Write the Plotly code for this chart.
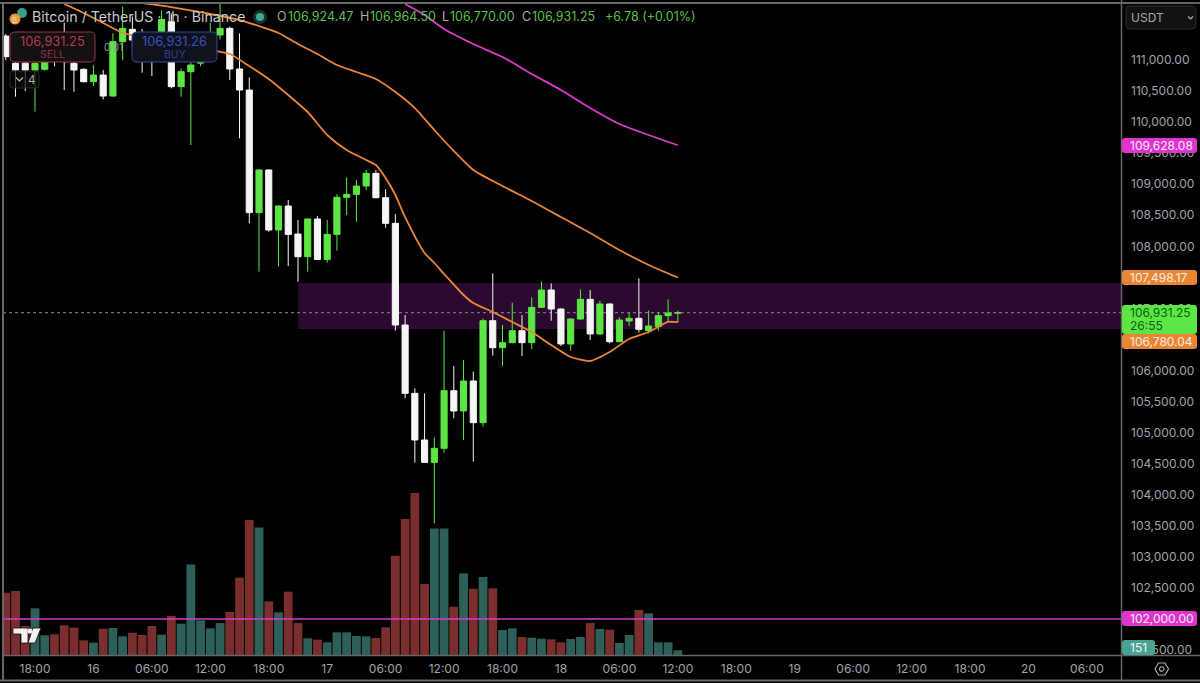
import plotly.graph_objects as go

# ---------------- Data ----------------
# hours counted from 15th 18:00
hours = list(range(-3, 67))
opens = [111386, 110946, 110950, 110839, 110850, 111200, 111200, 110946, 110850, 110651,
         110758, 110420, 111295, 111494, 111322, 111100, 111300, 111617, 110571, 110812,
         110950, 111300, 111403, 111510, 110855, 110517, 108542, 109229, 108263, 108649,
         108198, 107833, 108440, 107790, 108193, 108789, 108837, 108971, 109175, 108783,
         108370, 106733, 105633, 104882, 104522, 104748, 105676, 105349, 105832, 105161,
         106803, 106368, 106449, 106642, 106449, 107018, 107297, 106991, 106428, 106830,
         107147, 106589, 107072, 106465, 106798, 106841, 106644, 106707, 106884, 106924.47]
closes = [111054, 110839, 110839, 110946, 111200, 111000, 111000, 110839, 110651, 110758,
          110420, 111295, 111510, 111322, 111100, 111000, 111655, 110571, 110812, 110920,
          111300, 111403, 111510, 110855, 110517, 108542, 109229, 108263, 108649, 108193,
          107833, 108440, 107790, 108193, 108789, 108837, 108971, 109175, 108783, 108370,
          106733, 105633, 104882, 104522, 104748, 105676, 105349, 105832, 105161, 106803,
          106368, 106449, 106642, 106449, 107018, 107297, 106991, 106428, 106830, 107147,
          106589, 107072, 106465, 106814, 106841, 106664, 106717, 106884, 106927, 106931.25]
highs = [111420, 111100, 111150, 111100, 111300, 111400, 111600, 111100, 110866, 110920,
         110839, 111430, 111860, 111700, 111500, 111300, 111800, 111750, 110866, 111000,
         111350, 111600, 111912, 111537, 111429, 110721, 109240, 109240, 108660, 108746,
         108424, 108450, 108488, 108424, 108842, 109111, 109068, 109229, 109229, 108918,
         108520, 106894, 105714, 105633, 104925, 106642, 106073, 106170, 105982, 106841,
         107565, 106733, 107093, 106894, 107179, 107431, 107404, 107000, 106841, 107308,
         107297, 107125, 107080, 106857, 106932, 107485, 106964, 106932, 107147, 106964.50]
lows = [111000, 110410, 110500, 110168, 110828, 110900, 110517, 110490, 110640, 110581,
        110367, 110410, 111000, 111200, 110796, 110742, 111100, 110544, 110410, 109631,
        110900, 111200, 111333, 110678, 109739, 108370, 107592, 108236, 107672, 107683,
        107430, 107592, 107780, 107737, 107930, 108504, 108397, 108907, 108775, 108300,
        106642, 105553, 104517, 104522, 103540, 104678, 105231, 104882, 104533, 105097,
        106240, 106073, 106440, 106234, 106342, 107010, 106803, 106395, 106320, 106820,
        106492, 106580, 106438, 106455, 106717, 106610, 106600, 106642, 106787, 106770]
volumes = [1678, 1722, 795, 1263, 547, 574, 812, 751, 415, 353,
           724, 742, 521, 618, 556, 795, 565, 1060, 857, 2428,
           945, 733, 874, 1166, 2075, 3603, 3408, 1448, 1157, 1704,
           874, 468, 433, 362, 627, 627, 530, 521, 477, 759,
           2658, 3629, 4318, 1907, 3382, 3382, 1307, 2190, 1784, 2093,
           1792, 689, 733, 503, 486, 459, 442, 362, 450, 503,
           874, 715, 698, 344, 556, 1219, 1130, 362, 362, 151]

ema_fast_x = [3, 5, 7, 9, 11, 14, 18, 20, 22, 24, 26, 28, 30, 32, 34, 35, 36, 37, 38, 40, 41,
              42, 44, 45, 47, 49, 51, 53, 55, 57, 59, 61, 63, 65, 66]
ema_fast = [111902, 111757, 111596, 111435, 111370, 111274, 111161, 111097, 110903, 110694,
            110436, 110163, 109793, 109551, 109390, 109310, 109100, 108827, 108472, 107893,
            107732, 107555, 107216, 107088, 106943, 106782, 106621, 106412, 106218, 106154,
            106299, 106508, 106621, 106782, 106780]
ema_mid_x = [11, 14, 18, 21, 23, 25, 27, 29, 31, 33, 35, 37, 39, 41, 43, 45, 48, 51, 54, 57, 60, 63, 66]
ema_mid = [111918, 111853, 111741, 111644, 111547, 111435, 111258, 111097, 110920, 110807,
           110694, 110485, 110227, 109873, 109535, 109229, 108971, 108730, 108472, 108215,
           107941, 107700, 107498]
ema_slow_x = [38, 40, 42, 45, 48, 51, 54, 57, 60, 63, 66]
ema_slow = [111902, 111725, 111499, 111257, 111048, 110775, 110517, 110227, 109969, 109793, 109628]

x_ticks = [0, 6, 12, 18, 24, 30, 36, 42, 48, 54, 60, 66, 72, 78, 84, 90, 96, 102, 108]
x_labels = ["18:00", "16", "06:00", "12:00", "18:00", "17", "06:00", "12:00", "18:00", "18",
            "06:00", "12:00", "18:00", "19", "06:00", "12:00", "18:00", "20", "06:00"]
y_ticks = list(range(101500, 111500, 500))

current_price = 106931.25
support_level = 102000
zone_low, zone_high = 106669, 107410

# ---------------- Style ----------------
GREEN = "#5ce645"
WHITE = "#f6f6f6"
RED_VOL = "#7a2e2e"
TEAL_VOL = "#2c6058"
ORANGE = "#ea8535"
MAGENTA = "#e033cf"
FONT = "Inter"

L, R, T, B = 3, 1121, 4, 656  # plot area in pixels
X_MIN, X_MAX = -3.285, 111.5


def px(x):
    return (x - L) / (R - L)


def py(y):
    return (B - y) / (B - T)


def rounded(x0, y0, x1, y1, r=3):
    pts = [("M", x0 + r, y0), ("L", x1 - r, y0), ("Q", x1, y0, x1, y0 + r), ("L", x1, y1 - r),
           ("Q", x1, y1, x1 - r, y1), ("L", x0 + r, y1), ("Q", x0, y1, x0, y1 - r),
           ("L", x0, y0 + r), ("Q", x0, y0, x0 + r, y0)]
    out = ""
    for p in pts:
        out += p[0]
        for i in range(1, len(p), 2):
            out += f" {px(p[i]):.5f},{py(p[i + 1]):.5f} "
    return out + "Z"


def poly(points):
    return "M " + " L ".join(f"{px(a):.5f},{py(b):.5f}" for a, b in points) + " Z"


def box(path, fill, line="rgba(0,0,0,0)", width=1):
    return dict(type="path", xref="paper", yref="paper", path=path, fillcolor=fill,
                line=dict(color=line, width=width), layer="above")


def circle(cx, cy, r, fill):
    return dict(type="circle", xref="paper", yref="paper", x0=px(cx - r), x1=px(cx + r),
                y0=py(cy + r), y1=py(cy - r), fillcolor=fill, line=dict(width=0), layer="above")


def rule(x0, y0, x1, y1, color="#666666", width=2):
    return dict(type="line", xref="paper", yref="paper", x0=px(x0), x1=px(x1), y0=py(y0), y1=py(y1),
                line=dict(color=color, width=width), layer="above")


def label(x, y, text, size=12, color="#c8c8c8", anchor="left"):
    return dict(xref="paper", yref="paper", x=px(x), y=py(y), text=text, showarrow=False,
                xanchor=anchor, yanchor="middle", font=dict(family=FONT, size=size, color=color),
                borderpad=0)


# ---------------- Figure ----------------
fig = go.Figure()

fig.add_trace(go.Candlestick(
    x=hours, open=opens, high=highs, low=lows, close=closes,
    increasing=dict(line=dict(color=GREEN, width=1), fillcolor=GREEN),
    decreasing=dict(line=dict(color=WHITE, width=1), fillcolor=WHITE),
    whiskerwidth=0, yaxis="y", showlegend=False,
))
for xs, ys, col in [(ema_fast_x, ema_fast, ORANGE), (ema_mid_x, ema_mid, ORANGE), (ema_slow_x, ema_slow, "#d83ccc")]:
    fig.add_trace(go.Scatter(x=xs, y=ys, mode="lines", yaxis="y", showlegend=False,
                             line=dict(color=col, width=1.8, shape="spline", smoothing=0.6)))

vol_colors = [TEAL_VOL if c >= o else RED_VOL for o, c in zip(opens, closes)]
fig.add_trace(go.Bar(x=hours, y=volumes, marker=dict(color=vol_colors, line=dict(width=0)),
                     yaxis="y2", showlegend=False))

shapes = [
    dict(type="rect", xref="x", yref="y", x0=27, x1=X_MAX, y0=zone_low, y1=zone_high,
         fillcolor="#2a0a2e", line=dict(width=0), layer="below"),
    dict(type="line", xref="x", yref="y", x0=X_MIN, x1=X_MAX, y0=current_price, y1=current_price,
         line=dict(color="#8c8c8c", width=1, dash="dot"), layer="below"),
    dict(type="line", xref="paper", yref="y", x0=0, x1=1, y0=support_level, y1=support_level,
         line=dict(color="#d63cc6", width=1.5), layer="above"),
    # frame
    rule(0, 3, 1200, 3), rule(3, 3, 3, 680), rule(0, 680.5, 1200, 680.5),
    rule(1121.5, 0, 1121.5, 680, width=1.5), rule(3, 655.5, 1200, 655.5, width=1.5),
    # order buttons
    box(rounded(10, 32, 95, 62, 5), "#141113", "#9c3648", 1),
    box(rounded(132, 32, 217, 62, 5), "#10121c", "#3446a0", 1),
    box(rounded(10, 71, 39, 88, 3), "rgba(10,10,10,0.7)", "#2c2c2c", 1),
    # chevron of the "4" box
    dict(type="path", xref="paper", yref="paper", layer="above",
         path=f"M {px(16)},{py(77.5)} L {px(19.5)},{py(81)} L {px(23)},{py(77.5)}",
         line=dict(color="#c0c0c0", width=1.2)),
    # currency dropdown
    box(rounded(1126, 6, 1196, 29, 4), "#121212", "#2e2e2e", 1),
    dict(type="path", xref="paper", yref="paper", layer="above",
         path=f"M {px(1188)},{py(16.5)} L {px(1190.5)},{py(19)} L {px(1193)},{py(16.5)}",
         line=dict(color="#b0b0b0", width=1.2)),
    # symbol logos and status dot
    circle(22, 13, 5, "#3a9d90"),
    circle(15, 19, 5.5, "#e8963a"),
    circle(260, 17, 7, "#12332f"),
    circle(260, 17, 4, "#3fa88e"),
    # price tags
    box(rounded(1122, 138, 1197, 153), MAGENTA),
    box(rounded(1122, 270, 1197, 285), ORANGE),
    box(rounded(1122, 305, 1197, 334), GREEN),
    box(rounded(1122, 334, 1197, 349), ORANGE),
    box(rounded(1122, 611, 1197, 626), MAGENTA),
    box(rounded(1122, 640, 1155, 655), "#4aa392"),
    # tradingview logo
    box(poly([(13, 628), (28, 628), (28, 643), (21, 643), (21, 634), (13, 634)]), "#f2f2f2", "#101010", 0.8),
    box(poly([(33, 628), (41, 628), (35, 643), (28, 643)]), "#f2f2f2", "#101010", 0.8),
    circle(30, 631, 2.6, "#f2f2f2"),
    # settings hexagon
    dict(type="path", xref="paper", yref="paper", layer="above",
         path=poly([(1155, 669), (1158.5, 663), (1165, 663), (1168.5, 669), (1165, 675), (1158.5, 675)]),
         line=dict(color="#a8a8a8", width=1.2)),
    dict(type="circle", xref="paper", yref="paper", layer="above",
         x0=px(1159.5), x1=px(1164), y0=py(671.2), y1=py(666.8), line=dict(color="#a8a8a8", width=1.2)),
]

annotations = [
    label(31, 17, "Bitcoin / TetherUS · 1h · Binance", 14.2, "#c9c9c9"),
    label(276, 17, "O", 12.5, "#a8a8a8"),
    label(287, 17, "106,924.47", 12.5, "#5fbf4e"),
    label(359, 17, "H", 12.5, "#a8a8a8"),
    label(369, 17, "106,964.50", 12.5, "#5fbf4e"),
    label(441, 17, "L", 12.5, "#a8a8a8"),
    label(449, 17, "106,770.00", 12.5, "#5fbf4e"),
    label(521, 17, "C", 12.5, "#a8a8a8"),
    label(531, 17, "106,931.25", 12.5, "#5fbf4e"),
    label(604, 17, "+6.78 (+0.01%)", 12.5, "#5fbf4e"),
    label(52.5, 41, "106,931.25", 12.8, "#b93a4a", "center"),
    label(52.5, 54, "SELL", 10.5, "#8e3240", "center"),
    label(113, 47, "0.01", 10, "#9a9a9a", "center"),
    label(174.5, 41, "106,931.26", 12.8, "#3a4fc0", "center"),
    label(174.5, 54, "BUY", 10.5, "#2f3f90", "center"),
    label(31.5, 80, "4", 11.5, "#b0b0b0", "center"),
    label(1130, 18, "USDT", 12, "#a8a8a8"),
    label(15, 19.5, "₿", 8, "#f6d9a8", "center"),
    label(1129, 145.5, "109,628.08", 12, "#f4eef4"),
    label(1129, 277.5, "107,498.17", 12, "#f7ece2"),
    label(1129, 341.5, "106,780.04", 12, "#f7ece2"),
    label(1129, 618.5, "102,000.00", 12, "#f4eef4"),
    label(1129, 647.5, "151", 12, "#f0f6f4"),
    label(1129, 312.5, "106,931.25", 12, "#0c5f12"),
    label(1129, 325.5, "26:55", 12, "#0c5f12"),
]

fig.update_layout(
    width=1200, height=683,
    margin=dict(l=L, r=1200 - R, t=T, b=683 - B, autoexpand=False),
    paper_bgcolor="#000000", plot_bgcolor="#000000",
    font=dict(family=FONT, color="#a8a8a8", size=12),
    boxgap=0.1, bargap=0.1, showlegend=False, dragmode=False,
    xaxis=dict(range=[X_MIN, X_MAX], tickmode="array", tickvals=x_ticks, ticktext=x_labels,
               showgrid=False, zeroline=False, ticks="", rangeslider=dict(visible=False),
               ticklabelstandoff=4, tickfont=dict(family=FONT, size=12, color="#a4a4a4")),
    yaxis=dict(range=[101404, 111902], side="right", tickmode="array", tickvals=y_ticks,
               tickformat=",.2f", showgrid=False, zeroline=False, ticks="", ticklabelstandoff=9,
               tickfont=dict(family=FONT, size=12, color="#a4a4a4")),
    yaxis2=dict(range=[0, 17278], overlaying="y", visible=False),
    shapes=shapes, annotations=annotations,
)

fig.write_html("out.html", config=dict(displayModeBar=False),
               post_script="document.body.style.margin='0';")
